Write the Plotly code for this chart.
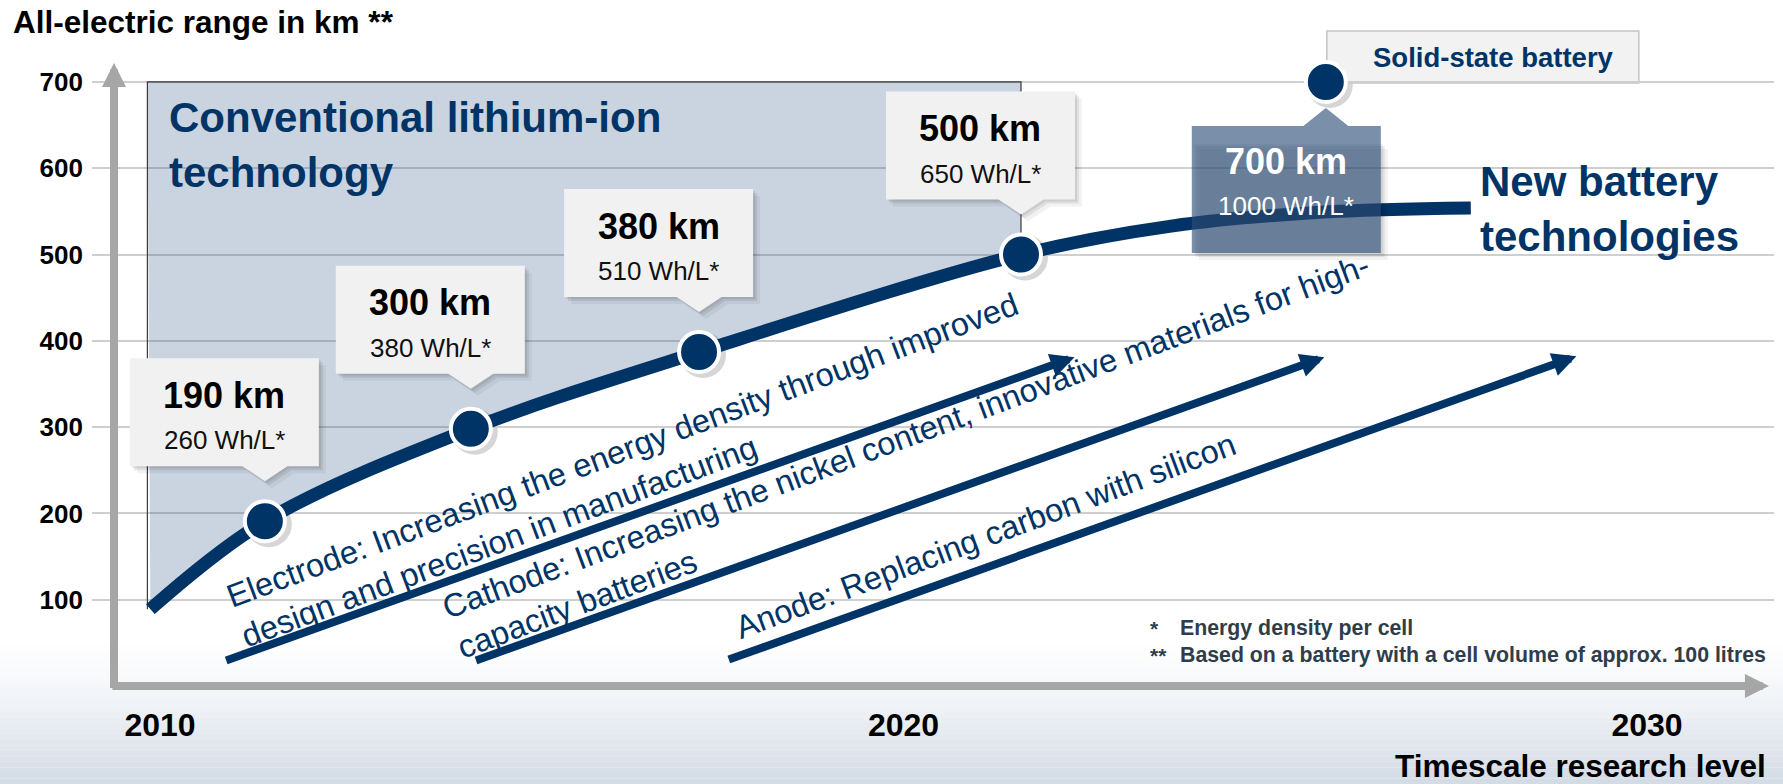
import plotly.graph_objects as go

# ---------------- data ----------------
x_tick_years = [2010, 2020, 2030]
y_tick_km = [100, 200, 300, 400, 500, 600, 700]

milestone_year = [2011.41, 2014.18, 2017.25, 2021.58, 2025.68]
milestone_km = [190, 300, 380, 500, 700]          # labelled ranges
milestone_dot_km = [191, 298, 387, 500, 700]      # dot positions
milestone_whl = [260, 380, 510, 650, 1000]

curve_year = [2009.87, 2011.41, 2014.18, 2017.25, 2021.58, 2023.6, 2025.6, 2027.63]
curve_km = [89, 191, 298, 387, 500, 533, 549, 554]

conv_year = [2009.83, 2021.58]
conv_top_km = 700

arrow_tail_year = [2010.87, 2014.23, 2017.63]
arrow_tail_km = [29, 29, 30]
arrow_head_year = [2022.30, 2025.66, 2029.05]
arrow_head_km = [381, 381, 382]

research_text = [
    "Electrode: Increasing the energy density through improved<br>design and precision in manufacturing",
    "Cathode: Increasing the nickel content, innovative materials for high-<br>capacity batteries",
    "Anode: Replacing carbon with silicon",
]
research_year = [2016.32, 2020.13, 2021.10]
research_km = [250, 267, 174]

footnote_marks = ["*", "**"]
footnote_text = ["Energy density per cell",
                 "Based on a battery with a cell volume of approx. 100 litres"]

# ---------------- layout geometry ----------------
W, H = 1783, 784
ML, MR, MT, MB = 92, 9, 25, 84
X_RANGE = [2009.085, 2031.708]
Y_RANGE = [-16.2, 766.0]
PW, PH = W - ML - MR, H - MT - MB

def px(xp):
    return (xp - ML) / PW

def py(yp):
    return (H - MB - yp) / PH

NAVY = "#003366"
FONT = "Liberation Sans"
AXIS_GRAY = "#a6a6a6"

fig = go.Figure()

# shaded "conventional" region: curve segment (invisible) + top line filled to it
n_conv = curve_year.index(conv_year[1]) + 1
fig.add_trace(go.Scatter(x=curve_year[:n_conv], y=curve_km[:n_conv], mode="lines",
                         line=dict(width=0, shape="spline", color="rgba(0,0,0,0)"),
                         hoverinfo="skip", showlegend=False))
fig.add_trace(go.Scatter(x=conv_year, y=[conv_top_km, conv_top_km], mode="lines",
                         line=dict(width=0, color="rgba(0,0,0,0)"), fill="tonexty",
                         fillcolor="rgba(28,68,122,0.23)", hoverinfo="skip", showlegend=False))
# border of the region
fig.add_trace(go.Scatter(x=[conv_year[0], conv_year[0], conv_year[1], conv_year[1]],
                         y=[curve_km[0], conv_top_km, conv_top_km, milestone_dot_km[3]],
                         mode="lines", line=dict(width=1.2, color="#3a3a3a"),
                         hoverinfo="skip", showlegend=False))
# main curve
fig.add_trace(go.Scatter(x=curve_year, y=curve_km, mode="lines",
                         line=dict(width=13, shape="spline", color=NAVY),
                         hoverinfo="skip", showlegend=False))
# milestone dots
fig.add_trace(go.Scatter(x=milestone_year, y=milestone_dot_km, mode="markers",
                         marker=dict(size=40, color=NAVY, line=dict(width=4, color="white")),
                         hoverinfo="skip", showlegend=False))

shapes = []
annotations = []

# background gradient at the bottom
N = 26
top_px, bot_px = 640, H
for i in range(N):
    y0p = top_px + (bot_px - top_px) * i / N
    y1p = top_px + (bot_px - top_px) * (i + 1) / N
    t = (i + 0.5) / N
    a = min(1.0, t ** 1.3)
    shapes.append(dict(type="rect", xref="paper", yref="paper", layer="below",
                       x0=px(0), x1=px(W), y0=py(y1p), y1=py(y0p),
                       line=dict(width=0), fillcolor=f"rgba(210,218,228,{a:.3f})"))

# dot shadows
for yr, km in zip(milestone_year, milestone_dot_km):
    shapes.append(dict(type="circle", xref="x", yref="y", xsizemode="pixel", ysizemode="pixel",
                       xanchor=yr, yanchor=km, x0=-19, x1=27, y0=-26, y1=20,
                       fillcolor="rgba(0,0,0,0.16)", line=dict(width=0), layer="below"))

# solid-state label box (anchored at the 700 km dot)
shapes.append(dict(type="path", xref="x", yref="y", xsizemode="pixel", ysizemode="pixel",
                   xanchor=milestone_year[4], yanchor=milestone_dot_km[4],
                   path="M1,-1 L1,51 L313,51 L313,-1 Z",
                   fillcolor="#f2f2f2", line=dict(width=1.5, color="#c4c4c4"), layer="below"))
annotations.append(dict(x=milestone_year[4], y=milestone_dot_km[4], xref="x", yref="y",
                        xshift=168, yshift=24, showarrow=False,
                        text="<b>Solid-state battery</b>",
                        font=dict(family=FONT, size=27.5, color=NAVY)))

# callout boxes above the first four dots
up_box = "M{l},55 L{l},163 L{r},163 L{r},55 L22.5,55 L0,40 L-22.5,55 Z"
for i in range(4):
    yr, ky = milestone_year[i], milestone_dot_km[i]
    for off, alpha in ((7, 0.05), (4, 0.08), (2, 0.08)):
        shapes.append(dict(type="path", xref="x", yref="y", xsizemode="pixel", ysizemode="pixel",
                           xanchor=yr, yanchor=ky, layer="above",
                           path=f"M{-135+off},{55-off} L{-135+off},{163-off} L{54+off},{163-off} "
                                f"L{54+off},{55-off} L{22.5+off},{55-off} L{off},{40-off} L{-22.5+off},{55-off} Z",
                           fillcolor=f"rgba(0,0,0,{alpha})", line=dict(width=0)))
    shapes.append(dict(type="path", xref="x", yref="y", xsizemode="pixel", ysizemode="pixel",
                       xanchor=yr, yanchor=ky, layer="above",
                       path=up_box.format(l=-135, r=54),
                       fillcolor="#f1f1f1", line=dict(width=0)))
    annotations.append(dict(x=yr, y=ky, xref="x", yref="y", xshift=-40.5, yshift=126,
                            showarrow=False, text=f"<b>{milestone_km[i]} km</b>",
                            font=dict(family=FONT, size=36, color="#000000")))
    annotations.append(dict(x=yr, y=ky, xref="x", yref="y", xshift=-40.5, yshift=81,
                            showarrow=False, text=f"{milestone_whl[i]} Wh/L*",
                            font=dict(family=FONT, size=26, color="#111111")))

# 700 km callout (below the dot, semi-transparent)
yr, ky = milestone_year[4], milestone_dot_km[4]
for off, alpha in ((7, 0.05), (4, 0.07), (2, 0.07)):
    shapes.append(dict(type="path", xref="x", yref="y", xsizemode="pixel", ysizemode="pixel",
                       xanchor=yr, yanchor=ky, layer="above",
                       path=f"M{-134+off},{-171-off} L{55+off},{-171-off} L{55+off},{-60-off} L{-134+off},{-60-off} Z",
                       fillcolor=f"rgba(0,0,0,{alpha})", line=dict(width=0)))
shapes.append(dict(type="path", xref="x", yref="y", xsizemode="pixel", ysizemode="pixel",
                   xanchor=yr, yanchor=ky, layer="above",
                   path="M-134,-44 L-134,-171 L55,-171 L55,-44 L22.5,-44 L0,-26 L-22.5,-44 Z",
                   fillcolor="rgba(46,80,122,0.64)", line=dict(width=0)))
annotations.append(dict(x=yr, y=ky, xref="x", yref="y", xshift=-39.5, yshift=-80,
                        showarrow=False, text=f"<b>{milestone_km[4]} km</b>",
                        font=dict(family=FONT, size=36, color="#ffffff")))
annotations.append(dict(x=yr, y=ky, xref="x", yref="y", xshift=-39.5, yshift=-124,
                        showarrow=False, text=f"{milestone_whl[4]} Wh/L*",
                        font=dict(family=FONT, size=26, color="#ffffff")))

# axis arrows (grey)
y_axis_year = 2009.381
annotations.append(dict(x=y_axis_year, y=722, ax=y_axis_year, ay=-4, xref="x", yref="y",
                        axref="x", ayref="y", text="", showarrow=True, arrowhead=2,
                        arrowsize=0.6, arrowwidth=8, arrowcolor=AXIS_GRAY, standoff=0))
annotations.append(dict(x=2031.64, y=0, ax=2009.34, ay=0, xref="x", yref="y",
                        axref="x", ayref="y", text="", showarrow=True, arrowhead=2,
                        arrowsize=0.6, arrowwidth=8, arrowcolor=AXIS_GRAY, standoff=0))

# research arrows and texts
for i in range(3):
    annotations.append(dict(x=arrow_head_year[i], y=arrow_head_km[i],
                            ax=arrow_tail_year[i], ay=arrow_tail_km[i],
                            xref="x", yref="y", axref="x", ayref="y", text="",
                            showarrow=True, arrowhead=2, arrowsize=0.6, arrowwidth=8,
                            arrowcolor=NAVY, standoff=0))
    annotations.append(dict(x=research_year[i], y=research_km[i], xref="x", yref="y",
                            text=research_text[i], showarrow=False, textangle=-20.5,
                            align="left", xanchor="center", yanchor="middle",
                            font=dict(family=FONT, size=32.5, color=NAVY)))

# big labels
annotations.append(dict(x=2010.10, y=688, xref="x", yref="y", xanchor="left", yanchor="top",
                        showarrow=False, align="left",
                        text="<b>Conventional lithium-ion<br>technology</b>",
                        font=dict(family=FONT, size=42, color=NAVY)))
annotations.append(dict(x=2027.72, y=614, xref="x", yref="y", xanchor="left", yanchor="top",
                        showarrow=False, align="left",
                        text="<b>New battery<br>technologies</b>",
                        font=dict(family=FONT, size=42, color=NAVY)))

# footnotes
fn_y = [67.2, 35.9]
for m, t, yv in zip(footnote_marks, footnote_text, fn_y):
    annotations.append(dict(x=2023.289, y=yv, xref="x", yref="y", xanchor="left",
                            yanchor="middle", showarrow=False, text=f"<b>{m}</b>",
                            font=dict(family=FONT, size=21, color="#2f3d4b")))
    annotations.append(dict(x=2023.692, y=yv, xref="x", yref="y", xanchor="left",
                            yanchor="middle", showarrow=False, text=f"<b>{t}</b>",
                            font=dict(family=FONT, size=21.3, color="#2f3d4b")))

# axis titles
annotations.append(dict(x=px(11), y=py(22), xref="paper", yref="paper", xanchor="left",
                        yanchor="middle", showarrow=False,
                        text="<b>All-electric range in km **</b>",
                        font=dict(family=FONT, size=31.5, color="#000000")))
annotations.append(dict(x=px(1768), y=py(766), xref="paper", yref="paper", xanchor="right",
                        yanchor="middle", showarrow=False,
                        text="<b>Timescale research level</b>",
                        font=dict(family=FONT, size=31.5, color="#000000")))

fig.update_layout(
    width=W, height=H, margin=dict(l=ML, r=MR, t=MT, b=MB, pad=0),
    paper_bgcolor="white", plot_bgcolor="rgba(0,0,0,0)",
    showlegend=False, shapes=shapes, annotations=annotations,
    font=dict(family=FONT),
    xaxis=dict(range=X_RANGE, tickvals=x_tick_years, ticktext=[str(v) for v in x_tick_years],
               showgrid=False, zeroline=False, showline=False, ticks="",
               tickfont=dict(family=FONT, size=32, color="#000000", weight="bold"),
               ticklabelstandoff=3, fixedrange=True),
    yaxis=dict(range=Y_RANGE, tickvals=y_tick_km, ticktext=[str(v) for v in y_tick_km],
               showgrid=True, gridcolor="#cfcfcf", gridwidth=1.5, zeroline=False,
               showline=False, ticks="",
               tickfont=dict(family=FONT, size=26, color="#000000", weight="bold"),
               ticklabelstandoff=8, fixedrange=True),
)

fig.write_html("out.html", config={"displayModeBar": False},
               post_script="document.body.style.margin='0';document.body.style.overflow='hidden';")
